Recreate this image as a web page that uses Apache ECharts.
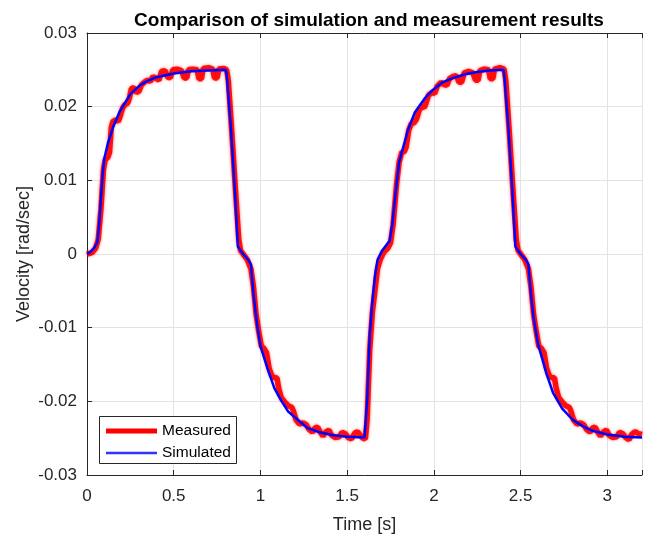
<!DOCTYPE html>
<html>
<head>
<meta charset="utf-8">
<script src="https://cdn.jsdelivr.net/npm/echarts@6/dist/echarts.min.js"></script>
<style>html,body{margin:0;padding:0;background:#fff}#c{width:645px;height:539px}</style>
</head>
<body>
<div id="c"></div>
<script>
// ---- data ----
const titleText = 'Comparison of simulation and measurement results';
const xName = 'Time [s]';
const yName = 'Velocity [rad/sec]';
const seriesNames = ['Measured', 'Simulated'];
const xTicks = [0, 0.5, 1, 1.5, 2, 2.5, 3];
const yTicks = [-0.03, -0.02, -0.01, 0, 0.01, 0.02, 0.03];

const simTime = [0, 0.02, 0.04, 0.06, 0.07, 0.08, 0.09, 0.1, 0.12, 0.15, 0.19, 0.25, 0.3, 0.34, 0.4, 0.5, 0.6, 0.7, 0.8,
  0.805, 0.83, 0.85, 0.87, 0.9, 0.93, 0.945, 0.96, 0.98, 1.0, 1.04, 1.08, 1.12, 1.16, 1.2, 1.27, 1.34, 1.42, 1.5, 1.6,
  1.615, 1.63, 1.645, 1.66, 1.675, 1.7, 1.745, 1.76, 1.78, 1.8, 1.85, 1.89, 1.95, 1.99, 2.05, 2.1, 2.18, 2.25, 2.32, 2.4,
  2.405, 2.43, 2.45, 2.47, 2.5, 2.53, 2.545, 2.56, 2.575, 2.6, 2.65, 2.688, 2.74, 2.8, 2.86, 2.915, 3.0, 3.1, 3.2];
const simVel = [0, 0.0003, 0.0008, 0.0016, 0.004, 0.0075, 0.0108, 0.013, 0.015, 0.0172, 0.0194, 0.0217, 0.0228, 0.0234, 0.024, 0.0245, 0.0248, 0.0249, 0.025,
  0.0245, 0.017, 0.0095, 0.001, 0.0, -0.0008, -0.0014, -0.0055, -0.0095, -0.0125, -0.0155, -0.0182, -0.0199, -0.0214, -0.0222, -0.0236, -0.0242, -0.0246, -0.0248, -0.0249,
  -0.02, -0.011, -0.0065, -0.003, -0.0008, 0.0004, 0.0018, 0.004, 0.0085, 0.0125, 0.0168, 0.0192, 0.0212, 0.0222, 0.0233, 0.0238, 0.0244, 0.0247, 0.0249, 0.025,
  0.0245, 0.017, 0.0095, 0.001, 0.0, -0.0008, -0.0014, -0.0055, -0.0087, -0.0122, -0.0163, -0.0189, -0.021, -0.0225, -0.0234, -0.024, -0.0245, -0.0248, -0.0249];

const measTime = [0, 0.03, 0.05, 0.065, 0.08, 0.095, 0.105, 0.12, 0.13, 0.14, 0.15, 0.165, 0.18, 0.19, 0.205, 0.22, 0.235, 0.245, 0.255, 0.27, 0.285, 0.3, 0.315, 0.335, 0.35, 0.365, 0.38, 0.4, 0.415, 0.43, 0.45, 0.465, 0.48, 0.495, 0.52, 0.545, 0.56, 0.575, 0.585, 0.61, 0.635, 0.645, 0.66, 0.67, 0.7, 0.725, 0.735, 0.75, 0.76, 0.79, 0.805,
  0.815, 0.835, 0.855, 0.875, 0.885, 0.9, 0.925, 0.945, 0.96, 0.975, 0.99, 1.005, 1.02, 1.035, 1.05, 1.065, 1.08, 1.095, 1.105, 1.12, 1.14, 1.16, 1.18, 1.19, 1.205, 1.225, 1.245, 1.265, 1.28, 1.3, 1.315, 1.33, 1.345, 1.36, 1.38, 1.395, 1.41, 1.43, 1.455, 1.47, 1.49, 1.505, 1.525, 1.545, 1.56, 1.575, 1.59, 1.605,
  1.615, 1.63, 1.645, 1.66, 1.675, 1.69, 1.71, 1.735, 1.75, 1.765, 1.785, 1.8, 1.815, 1.83, 1.84, 1.855, 1.87, 1.885, 1.9, 1.915, 1.93, 1.945, 1.955, 1.97, 1.99, 2.005, 2.02, 2.04, 2.06, 2.075, 2.09, 2.11, 2.13, 2.145, 2.16, 2.175, 2.2, 2.225, 2.24, 2.255, 2.265, 2.29, 2.315, 2.325, 2.34, 2.35, 2.38, 2.405,
  2.415, 2.435, 2.455, 2.475, 2.485, 2.5, 2.525, 2.545, 2.56, 2.575, 2.59, 2.605, 2.62, 2.635, 2.65, 2.665, 2.68, 2.695, 2.705, 2.72, 2.74, 2.76, 2.78, 2.79, 2.805, 2.825, 2.845, 2.865, 2.88, 2.9, 2.915, 2.93, 2.945, 2.96, 2.98, 2.995, 3.01, 3.03, 3.055, 3.07, 3.09, 3.105, 3.125, 3.14, 3.16, 3.18, 3.2];
const measVel = [0, 0.0002, 0.0008, 0.002, 0.006, 0.0115, 0.0128, 0.0131, 0.0138, 0.0172, 0.018, 0.0182, 0.018, 0.0186, 0.0198, 0.0203, 0.0205, 0.0212, 0.0224, 0.0226, 0.0219, 0.0221, 0.023, 0.0234, 0.0236, 0.0234, 0.0241, 0.0238, 0.0236, 0.0248, 0.0249, 0.024, 0.0239, 0.025, 0.0251, 0.0249, 0.0239, 0.0239, 0.025, 0.0251, 0.025, 0.0238, 0.0238, 0.0252, 0.0253, 0.0251, 0.0239, 0.0239, 0.0251, 0.0252, 0.025,
  0.0235, 0.0165, 0.009, 0.002, 0.0005, 0.0, -0.0008, -0.002, -0.0045, -0.0082, -0.0105, -0.0125, -0.0128, -0.0134, -0.0155, -0.0165, -0.0168, -0.0168, -0.0182, -0.0195, -0.0201, -0.0206, -0.0208, -0.0213, -0.0225, -0.0231, -0.0229, -0.0232, -0.0238, -0.0242, -0.0236, -0.0235, -0.0242, -0.0247, -0.0241, -0.0239, -0.0246, -0.0249, -0.0248, -0.0242, -0.0244, -0.0249, -0.0251, -0.0243, -0.0241, -0.0246, -0.025, -0.0251,
  -0.0225, -0.013, -0.008, -0.005, -0.002, -0.0008, 0.0002, 0.0008, 0.0015, 0.004, 0.0095, 0.0125, 0.0138, 0.0139, 0.0145, 0.0168, 0.0177, 0.0178, 0.0183, 0.0195, 0.02, 0.0199, 0.0205, 0.0216, 0.0219, 0.0218, 0.0228, 0.0233, 0.023, 0.0229, 0.0238, 0.0241, 0.0242, 0.0233, 0.0233, 0.0246, 0.0248, 0.0246, 0.0236, 0.0236, 0.0249, 0.0251, 0.025, 0.0238, 0.0238, 0.0251, 0.0253, 0.0251,
  0.0235, 0.0165, 0.009, 0.002, 0.0005, 0.0, -0.0008, -0.002, -0.0045, -0.0082, -0.0105, -0.0125, -0.0128, -0.0134, -0.0155, -0.0165, -0.0168, -0.0168, -0.0182, -0.0195, -0.0201, -0.0206, -0.0208, -0.0213, -0.0225, -0.0231, -0.0229, -0.0232, -0.0238, -0.0242, -0.0236, -0.0235, -0.0242, -0.0247, -0.0241, -0.0239, -0.0246, -0.0249, -0.0248, -0.0242, -0.0244, -0.0249, -0.0252, -0.0245, -0.0241, -0.0244, -0.0245];

// ---- chart ----
const pair = (t, v) => t.map((x, i) => [x, v[i]]);
const txt = '#262626';
const font = 'Liberation Sans, Arial, Helvetica, sans-serif';
const chart = echarts.init(document.getElementById('c'), null, {renderer: 'canvas'});
const xCommon = {
  type: 'value', min: 0, max: 3.2, interval: 0.5,
  axisLine: {show: true, onZero: false, lineStyle: {color: txt, width: 1}},
  axisTick: {show: true, inside: true, length: 5, lineStyle: {color: txt}},
};
chart.setOption({
  animation: false,
  backgroundColor: '#fff',
  title: {
    text: titleText, left: 364, top: 6, textAlign: 'center',
    textStyle: {fontFamily: font, fontSize: 19, fontWeight: 'bold', color: '#000'}
  },
  grid: {left: 87, right: -5, top: 33, bottom: 62, containLabel: false},
  xAxis: [
    Object.assign({}, xCommon, {
      position: 'bottom',
      name: xName, nameLocation: 'middle', nameGap: 41, nameMoveOverlap: false,
      nameTextStyle: {fontFamily: font, fontSize: 18, color: txt},
      axisLabel: {show: true, margin: 13, fontFamily: font, fontSize: 17, color: txt,
        formatter: v => xTicks.includes(v) ? String(v) : ''},
      splitLine: {show: true, lineStyle: {color: '#e3e3e3', width: 1}}
    }),
    Object.assign({}, xCommon, {
      position: 'top', axisLabel: {show: false}, splitLine: {show: false}
    })
  ],
  yAxis: {
    type: 'value', min: -0.03, max: 0.03, interval: 0.01,
    name: yName, nameLocation: 'middle', nameGap: 54, nameMoveOverlap: false,
    nameTextStyle: {fontFamily: font, fontSize: 18, color: txt},
    axisLine: {show: true, onZero: false, lineStyle: {color: txt, width: 1}},
    axisTick: {show: true, inside: true, length: 5, lineStyle: {color: txt}},
    axisLabel: {margin: 10, fontFamily: font, fontSize: 17, color: txt,
      formatter: v => { const r = Math.round(v * 100) / 100; return yTicks.includes(r) ? String(r) : ''; }},
    splitLine: {show: true, lineStyle: {color: '#e3e3e3', width: 1}}
  },
  legend: [
    {data: [seriesNames[0]], left: 106, top: 423, padding: 0, itemWidth: 51, itemHeight: 5, icon: 'rect',
      textStyle: {fontFamily: font, fontSize: 15.5, color: '#000', lineHeight: 16}, z: 10,
      itemStyle: {color: '#ff0000'}},
    {data: [seriesNames[1]], left: 106, top: 445, padding: 0, itemWidth: 51, itemHeight: 2.5, icon: 'rect',
      textStyle: {fontFamily: font, fontSize: 15.5, color: '#000', lineHeight: 16}, z: 10,
      itemStyle: {color: '#3333ff'}}
  ],
  graphic: [{
    type: 'rect', left: 99, top: 416, shape: {width: 137, height: 47}, z: 5,
    style: {fill: '#fff', stroke: txt, lineWidth: 1}
  }],
  series: [
    {name: seriesNames[0], type: 'line', showSymbol: false, symbol: 'none', xAxisIndex: 0,
      data: pair(measTime, measVel),
      lineStyle: {color: 'rgba(255,0,0,0.9)', width: 5.5, shadowBlur: 3, shadowColor: 'rgba(255,0,0,0.6)'},
      itemStyle: {color: '#ff0000'}, z: 2},
    {name: seriesNames[1], type: 'line', showSymbol: false, symbol: 'none', xAxisIndex: 0,
      data: pair(simTime, simVel),
      lineStyle: {color: '#0000ff', width: 2.5},
      itemStyle: {color: '#3333ff'}, z: 3}
  ]
});
</script>
</body>
</html>
